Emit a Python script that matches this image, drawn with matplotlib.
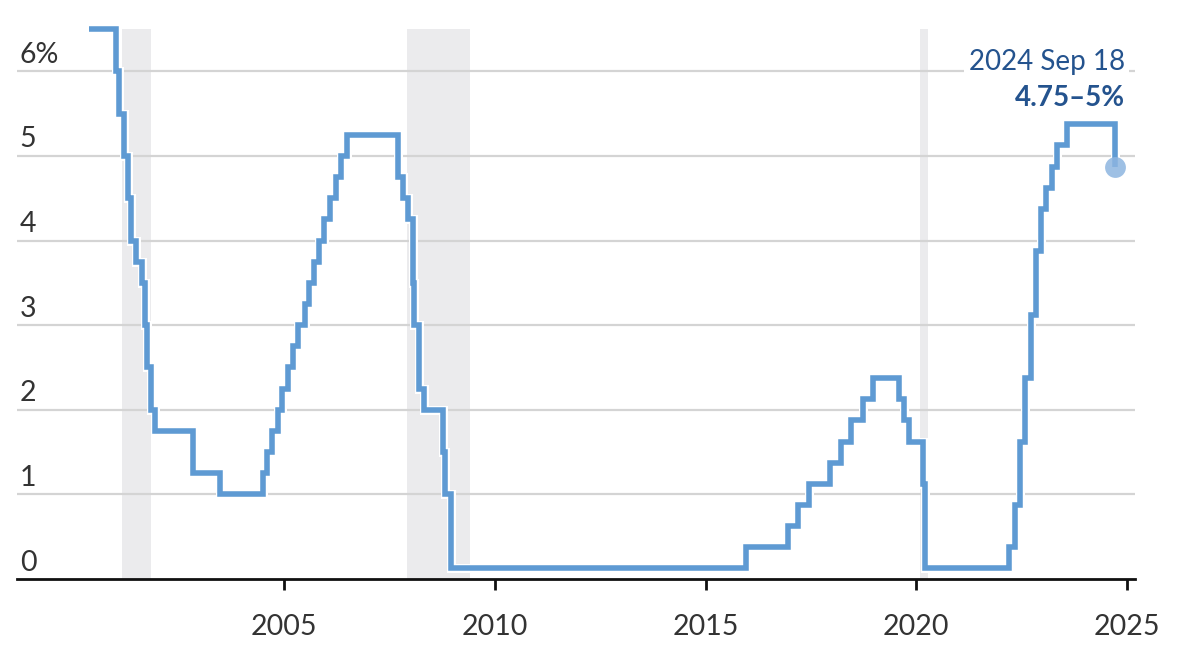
import matplotlib
matplotlib.use("Agg")
import matplotlib.pyplot as plt
import matplotlib.dates as mdates
import matplotlib.patheffects as pe
import pandas as pd

# fed funds target range, midpoint (%), by decision date
dates = ["2000-05-16", "2001-01-03", "2001-01-31", "2001-03-20", "2001-04-18",
         "2001-05-15", "2001-06-27", "2001-08-21", "2001-09-17", "2001-10-02",
         "2001-11-06", "2001-12-11", "2002-11-06", "2003-06-25", "2004-06-30",
         "2004-08-10", "2004-09-21", "2004-11-10", "2004-12-14", "2005-02-02",
         "2005-03-22", "2005-05-03", "2005-06-30", "2005-08-09", "2005-09-20",
         "2005-11-01", "2005-12-13", "2006-01-31", "2006-03-28", "2006-05-10",
         "2006-06-29", "2007-09-18", "2007-10-31", "2007-12-11", "2008-01-22",
         "2008-01-30", "2008-03-18", "2008-04-30", "2008-10-08", "2008-10-29",
         "2008-12-16", "2015-12-16", "2016-12-14", "2017-03-15", "2017-06-14",
         "2017-12-13", "2018-03-21", "2018-06-13", "2018-09-26", "2018-12-19",
         "2019-07-31", "2019-09-18", "2019-10-30", "2020-03-03", "2020-03-15",
         "2022-03-16", "2022-05-04", "2022-06-15", "2022-07-27", "2022-09-21",
         "2022-11-02", "2022-12-14", "2023-02-01", "2023-03-22", "2023-05-03",
         "2023-07-26", "2024-09-18"]
rates = [6.5, 6.0, 5.5, 5.0, 4.5,
         4.0, 3.75, 3.5, 3.0, 2.5,
         2.0, 1.75, 1.25, 1.0, 1.25,
         1.5, 1.75, 2.0, 2.25, 2.5,
         2.75, 3.0, 3.25, 3.5, 3.75,
         4.0, 4.25, 4.5, 4.75, 5.0,
         5.25, 4.75, 4.5, 4.25, 3.5,
         3.0, 2.25, 2.0, 1.5, 1.0,
         0.125, 0.375, 0.625, 0.875, 1.125,
         1.375, 1.625, 1.875, 2.125, 2.375,
         2.125, 1.875, 1.625, 1.125, 0.125,
         0.375, 0.875, 1.625, 2.375, 3.125,
         3.875, 4.375, 4.625, 4.875, 5.125,
         5.375, 4.875]

recessions = [("2001-03-01", "2001-11-01"), ("2007-12-01", "2009-06-01"),
              ("2020-02-01", "2020-04-15")]

yticks = [0, 1, 2, 3, 4, 5, 6]
ytick_labels = ["0", "1", "2", "3", "4", "5", "6%"]
xtick_years = [2005, 2010, 2015, 2020, 2025]

last_label = "2024 Sep 18"
last_range = "4.75\u20135%"

blue = "#5e9ad3"
dark_blue = "#24538e"
txt = "#333333"

plt.rcParams["font.family"] = ["Lato", "DejaVu Sans"]

d = pd.to_datetime(dates)

fig = plt.figure(figsize=(11.78, 6.56), dpi=100)
ax = fig.add_axes([17 / 1178, 77 / 656, 1118 / 1178, 550 / 656])

for a, b in recessions:
    ax.axvspan(pd.Timestamp(a), pd.Timestamp(b), color="#ebebed", lw=0, zorder=0)

for y in yticks[1:]:
    ax.axhline(y, color="#d4d4d4", lw=1.6, zorder=1)

ax.step(d, rates, where="post", color=blue, lw=4, solid_joinstyle="miter",
        solid_capstyle="butt", zorder=3, clip_on=False,
        path_effects=[pe.Stroke(linewidth=6.5, foreground="white"), pe.Normal()])
ax.plot(d[-1], rates[-1], "o", ms=15, color="#8db5e0", alpha=0.85, mec="none",
        zorder=4, clip_on=False)

ax.set_xlim(pd.Timestamp("1998-09-01"), pd.Timestamp("2025-03-10"))
ax.set_ylim(0, 6.5)

for y, lab in zip(yticks, ytick_labels):
    ax.annotate(lab, (0, y), xycoords=("axes fraction", "data"),
                xytext=(2, 2.5), textcoords="offset points",
                ha="left", va="bottom", fontsize=20.5, color=txt)

ax.set_yticks([])
ax.set_xticks([pd.Timestamp(f"{yr}-01-01") for yr in xtick_years])
ax.set_xticklabels([str(yr) for yr in xtick_years])
ax.tick_params(axis="x", length=8, width=2, color="#111111", labelsize=20.5,
               labelcolor=txt, pad=17)

for s in ["top", "right", "left"]:
    ax.spines[s].set_visible(False)
ax.spines["bottom"].set_linewidth(2)
ax.spines["bottom"].set_color("#111111")

ax.annotate(last_label, (d[-1], 6.0), xytext=(7, 7), textcoords="offset points",
            ha="right", va="center", fontsize=20, color=dark_blue, zorder=5,
            bbox=dict(boxstyle="square,pad=0.15", fc="white", ec="none"))
ax.annotate(last_range, (d[-1], 6.0), xytext=(7, -19), textcoords="offset points",
            ha="right", va="center", fontsize=20, fontweight="bold",
            color=dark_blue, zorder=5)

fig.savefig("out.png", dpi=100)
